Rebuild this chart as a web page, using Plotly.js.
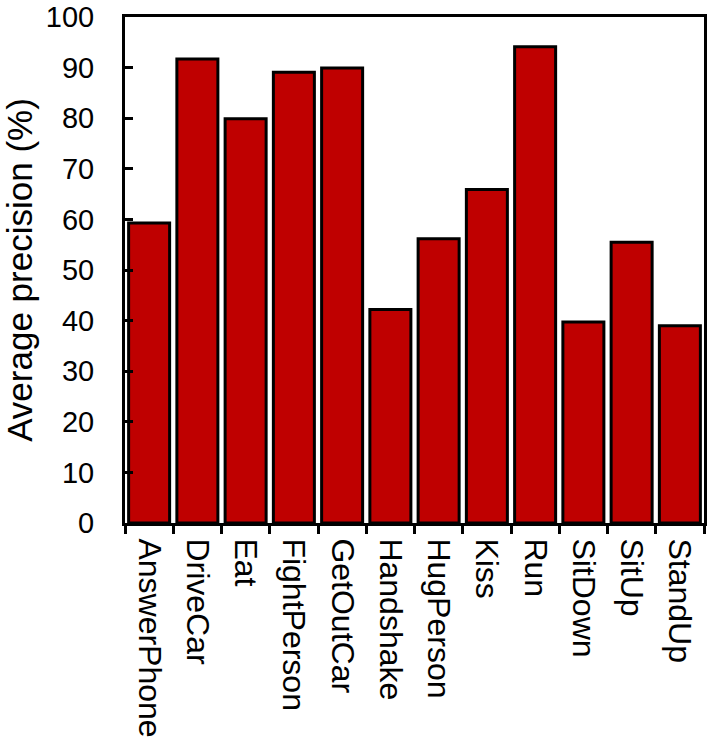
<!DOCTYPE html>
<html>
<head>
<meta charset="utf-8">
<script src="https://cdn.plot.ly/plotly-3.0.1.min.js"></script>
<style>html,body{margin:0;padding:0;background:#fff;}#chart{width:707px;height:748px;}</style>
</head>
<body>
<div id="chart"></div>
<script>
const categories = ["AnswerPhone","DriveCar","Eat","FightPerson","GetOutCar","Handshake","HugPerson","Kiss","Run","SitDown","SitUp","StandUp"];
const precision = [59.3, 91.7, 79.9, 89.1, 89.9, 42.2, 56.2, 65.9, 94.1, 39.7, 55.5, 39.0];
const yTicks = [0,10,20,30,40,50,60,70,80,90,100];

const font = "Arial, 'Liberation Sans', sans-serif";

Plotly.newPlot('chart', [{
  type: 'bar',
  x: categories,
  y: precision,
  marker: {color: '#BF0000', line: {color: '#000000', width: 3}},
  hoverinfo: 'skip'
}], {
  width: 707, height: 748,
  margin: {l: 125, r: 3, t: 17, b: 225},
  paper_bgcolor: '#ffffff', plot_bgcolor: '#ffffff',
  bargap: 0.15,
  showlegend: false,
  xaxis: {
    type: 'category',
    tickangle: 90,
    tickson: 'boundaries',
    ticks: 'outside', ticklen: 8, tickwidth: 3, tickcolor: '#000',
    showline: true, linecolor: '#000', linewidth: 3, mirror: true,
    showgrid: false, zeroline: false,
    tickfont: {family: font, size: 32, color: '#000'},
    ticklabelstandoff: 6,
    automargin: false
  },
  yaxis: {
    range: [0, 100],
    tickvals: yTicks,
    ticktext: yTicks.map(String),
    ticks: 'inside', ticklen: 8, tickwidth: 3, tickcolor: '#000',
    showline: true, linecolor: '#000', linewidth: 3, mirror: true,
    showgrid: false, zeroline: false,
    tickfont: {family: font, size: 29, color: '#000'},
    ticklabelstandoff: 22,
    ticklabeloverflow: 'allow',
    title: {text: 'Average precision (%)', font: {family: font, size: 35, color: '#000'}, standoff: 22},
    automargin: false
  }
}, {staticPlot: true});
</script>
</body>
</html>
